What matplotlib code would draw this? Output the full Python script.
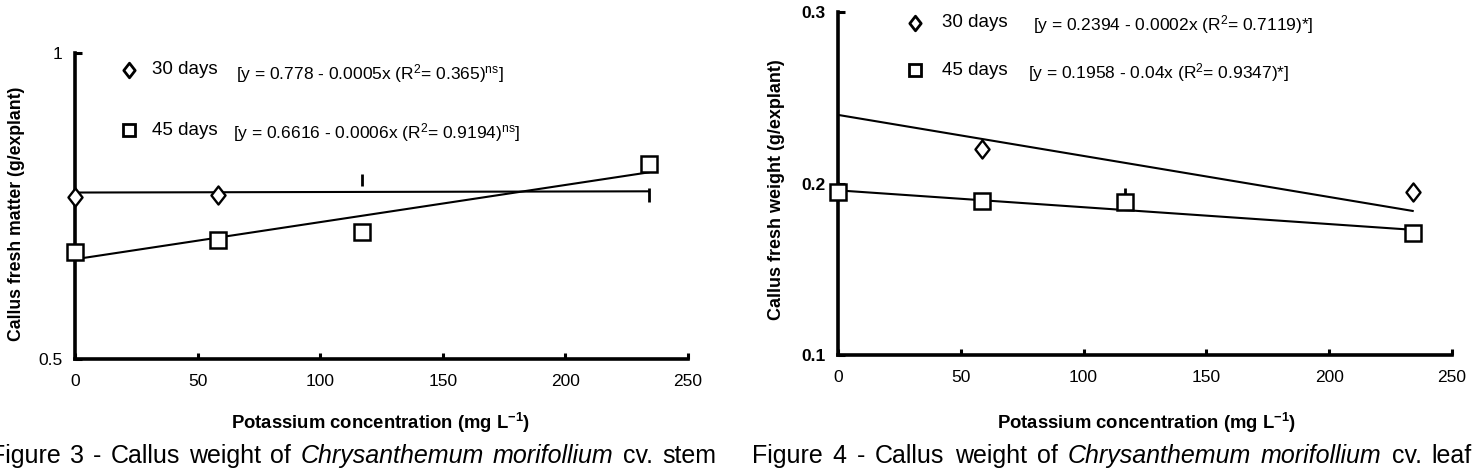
import matplotlib
matplotlib.use("Agg")
import matplotlib.pyplot as plt
from matplotlib.path import Path

plt.rcParams['font.family'] = ['Liberation Sans', 'DejaVu Sans']
plt.rcParams['mathtext.fontset'] = 'custom'
plt.rcParams['mathtext.rm'] = 'Liberation Sans'
plt.rcParams['mathtext.it'] = 'Liberation Sans:italic'
plt.rcParams['mathtext.bf'] = 'Liberation Sans:bold'

# ---------------- data ----------------
conc = [0, 58.5, 117, 234]

# Figure 3 (stem)
stem30_x = [0, 58.5]
stem30_y = [0.765, 0.768]
stem30_err_x = [117, 234]
stem30_err_y = [0.793, 0.768]
stem30_err = [0.010, 0.011]
stem45_y = [0.675, 0.695, 0.708, 0.818]
stem30_fit_x = [0, 234]
stem30_fit_y = [0.772, 0.774]
stem45_fit_x = [0, 234]
stem45_fit_y = [0.663, 0.805]

# Figure 4 (leaf)
leaf30_x = [58.5, 234]
leaf30_y = [0.220, 0.195]
leaf45_y = [0.195, 0.190, 0.189, 0.171]
leaf45_err_up = [0.006, 0.0, 0.0085, 0.0]
leaf30_fit_x = [0, 234]
leaf30_fit_y = [0.240, 0.184]
leaf45_fit_x = [0, 234]
leaf45_fit_y = [0.196, 0.173]

xticks = [0, 50, 100, 150, 200, 250]

caption3 = [('Figure', False), ('3', False), ('-', False), ('Callus', False), ('weight', False),
            ('of', False), ('Chrysanthemum', True), ('morifollium', True), ('cv.', False), ('stem', False)]
caption4 = [('Figure', False), ('4', False), ('-', False), ('Callus', False), ('weight', False),
            ('of', False), ('Chrysanthemum', True), ('morifollium', True), ('cv.', False), ('leaf', False)]

fig = plt.figure(figsize=(14.74, 4.70), dpi=100)
W, H = 1474.0, 470.0

diamond = Path([(0, 1), (0.78, 0), (0, -1), (-0.78, 0), (0, 1)],
               [Path.MOVETO, Path.LINETO, Path.LINETO, Path.LINETO, Path.CLOSEPOLY])


def make_ax(x0, x1, ytop, ybot):
    return fig.add_axes([x0 / W, 1 - ybot / H, (x1 - x0) / W, (ybot - ytop) / H])


def style(ax, ylim, yticks, ylab_bold):
    ax.set_xlim(0, 250)
    ax.set_ylim(*ylim)
    for s in ['top', 'right']:
        ax.spines[s].set_visible(False)
    for s in ['left', 'bottom']:
        ax.spines[s].set_linewidth(2.6)
        ax.spines[s].set_capstyle('projecting')
    ax.set_xticks(xticks)
    ax.set_xticklabels([str(t) for t in xticks])
    ax.set_yticks(yticks)
    ax.set_yticklabels([('%g' % t) for t in yticks],
                       fontweight='bold' if ylab_bold else 'normal')
    ax.tick_params(axis='x', direction='in', length=4, width=2.2, pad=11, labelsize=12.5)
    ax.tick_params(axis='y', direction='in', length=5, width=2.2, pad=9, labelsize=12.5)
    ax.patch.set_alpha(0)


mk = dict(mfc='white', mec='black', color='black', linestyle='none', clip_on=False, zorder=5)

# ---------------- Figure 3 ----------------
ax1 = make_ax(75, 688, 53, 359)
style(ax1, (0.5, 1.0), [0.5, 1.0], False)
ax1.plot(stem30_fit_x, stem30_fit_y, color='black', lw=1.5, zorder=3)
ax1.plot(stem45_fit_x, stem45_fit_y, color='black', lw=1.5, zorder=3)
ax1.errorbar(stem30_err_x, stem30_err_y, yerr=stem30_err, fmt='none', ecolor='black',
             elinewidth=2.0, capsize=0, clip_on=False, zorder=4)
ax1.plot(stem30_x, stem30_y, marker=diamond, markersize=13, mew=1.7, **mk)
ax1.plot(conc, stem45_y, marker='s', markersize=12, mew=1.8, **mk)

ax1.plot([0.088], [0.945], marker=diamond, markersize=10.5, mew=2.0, transform=ax1.transAxes, **mk)
ax1.plot([0.088], [0.748], marker='s', markersize=9, mew=2.0, transform=ax1.transAxes, **mk)
ax1.text(0.125, 0.945, '30 days', transform=ax1.transAxes, fontsize=13.5, va='center')
ax1.text(0.125, 0.748, '45 days', transform=ax1.transAxes, fontsize=13.5, va='center')
ax1.text(0.263, 0.933, r'[y = 0.778 - 0.0005x (R$^{2}$= 0.365)$^{\rm ns}$]',
         transform=ax1.transAxes, fontsize=12.5, va='center')
ax1.text(0.257, 0.74, r'[y = 0.6616 - 0.0006x (R$^{2}$= 0.9194)$^{\rm ns}$]',
         transform=ax1.transAxes, fontsize=12.5, va='center')

fig.text(17 / W, 1 - 214 / H, 'Callus fresh matter (g/explant)', rotation=90,
         fontweight='bold', fontsize=12.7, ha='center', va='center')
fig.text(381 / W, 1 - 423 / H, r'Potassium concentration (mg L$^{\mathbf{-1}}$)',
         fontweight='bold', fontsize=13.3, ha='center', va='center')

# ---------------- Figure 4 ----------------
ax2 = make_ax(838, 1452, 12, 355)
style(ax2, (0.1, 0.3), [0.1, 0.2, 0.3], True)
ax2.plot(leaf30_fit_x, leaf30_fit_y, color='black', lw=1.5, zorder=3)
ax2.plot(leaf45_fit_x, leaf45_fit_y, color='black', lw=1.5, zorder=3)
ax2.errorbar(conc, leaf45_y, yerr=[[0] * len(conc), leaf45_err_up], fmt='none', ecolor='black',
             elinewidth=2.0, capsize=0, clip_on=False, zorder=4)
ax2.plot(leaf30_x, leaf30_y, marker=diamond, markersize=13, mew=1.7, **mk)
ax2.plot(conc, leaf45_y, marker='s', markersize=12, mew=1.8, **mk)

ax2.plot([0.125], [0.969], marker=diamond, markersize=10.5, mew=2.0, transform=ax2.transAxes, **mk)
ax2.plot([0.125], [0.83], marker='s', markersize=9, mew=2.0, transform=ax2.transAxes, **mk)
ax2.text(0.17, 0.969, '30 days', transform=ax2.transAxes, fontsize=13.5, va='center')
ax2.text(0.17, 0.83, '45 days', transform=ax2.transAxes, fontsize=13.5, va='center')
ax2.text(0.317, 0.962, r'[y = 0.2394 - 0.0002x (R$^{2}$= 0.7119)*]',
         transform=ax2.transAxes, fontsize=12.5, va='center')
ax2.text(0.31, 0.823, r'[y = 0.1958 - 0.04x (R$^{2}$= 0.9347)*]',
         transform=ax2.transAxes, fontsize=12.5, va='center')

fig.text(776 / W, 1 - 190 / H, 'Callus fresh weight (g/explant)', rotation=90,
         fontweight='bold', fontsize=13, ha='center', va='center')
fig.text(1147 / W, 1 - 423 / H, r'Potassium concentration (mg L$^{\mathbf{-1}}$)',
         fontweight='bold', fontsize=13.3, ha='center', va='center')

# ---------------- captions (justified words) ----------------
renderer = fig.canvas.get_renderer()


def justified(words, x0, x1, ypix, size):
    objs = []
    for w, it in words:
        objs.append(fig.text(0, 1 - ypix / H, w, fontsize=size, ha='left', va='center',
                             style='italic' if it else 'normal'))
    widths = [o.get_window_extent(renderer).width for o in objs]
    gap = (x1 - x0 - sum(widths)) / (len(objs) - 1)
    x = x0
    for o, wd in zip(objs, widths):
        o.set_x(x / W)
        x += wd + gap


justified(caption3, -10, 716, 456, 18)
justified(caption4, 752, 1472, 456, 18)

fig.savefig('out.png', dpi=100)
